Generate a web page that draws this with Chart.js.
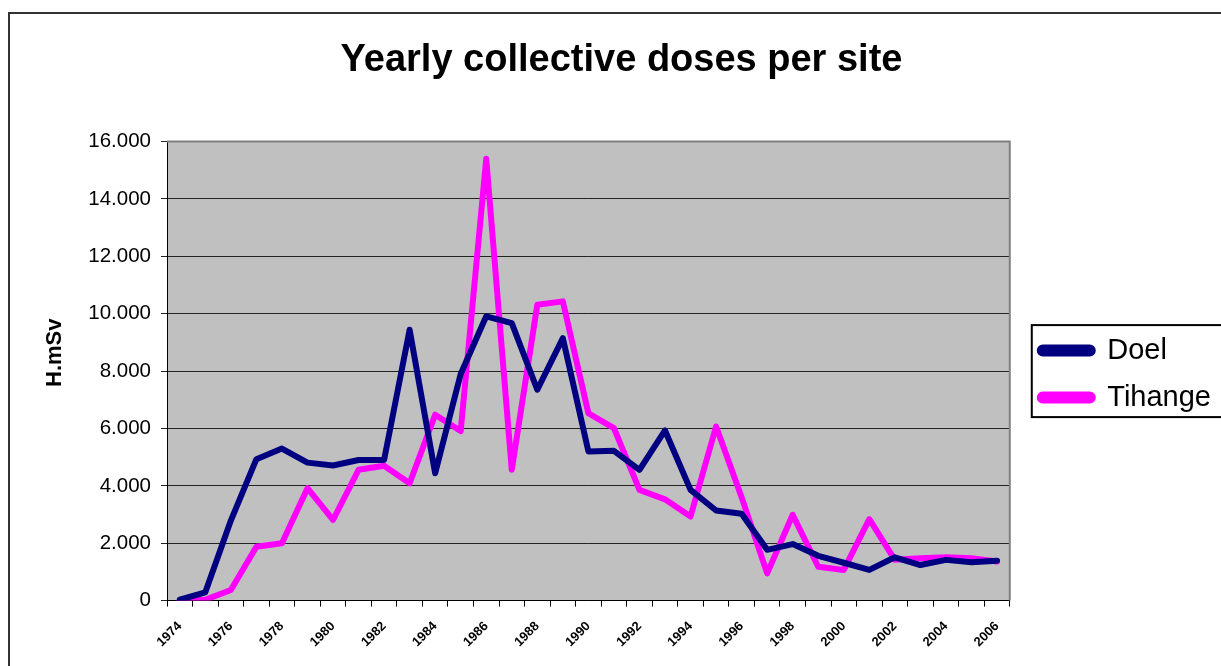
<!DOCTYPE html>
<html>
<head>
<meta charset="utf-8">
<script src="https://cdn.jsdelivr.net/npm/chart.js@4/dist/chart.umd.min.js"></script>
<style>
  html, body { margin:0; padding:0; background:#fff; overflow:hidden; }
  #wrap { position:absolute; left:8px; top:12px; width:1227px; height:654px; }
</style>
</head>
<body>
<div id="wrap"><canvas id="chart"></canvas></div>
<script>
// =========================================
// DATOS
// =========================================
const years = ['1974','1975','1976','1977','1978','1979','1980','1981','1982','1983','1984',
  '1985','1986','1987','1988','1989','1990','1991','1992','1993','1994','1995','1996',
  '1997','1998','1999','2000','2001','2002','2003','2004','2005','2006'];

const doel = [30, 290, 2790, 4930, 5300, 4810, 4710, 4900, 4900, 9440, 4440,
  7900, 9910, 9670, 7350, 9150, 5200, 5220, 4560, 5930, 3860, 3140, 3030,
  1770, 1970, 1560, 1320, 1070, 1510, 1240, 1420, 1340, 1390];

const tihange = [0, 30, 370, 1880, 2000, 3920, 2810, 4560, 4700, 4090, 6480,
  5910, 15400, 4560, 10310, 10430, 6530, 6010, 3860, 3530, 2930, 6070, 3600,
  950, 2990, 1180, 1070, 2840, 1420, 1480, 1510, 1480, 1360];

const FONT = "'Liberation Sans', Arial, sans-serif";

// =========================================
// FONDO / BORDES
// =========================================
const decor = {
  id: 'decor',
  afterLayout(chart){
    // leyenda un poco a la derecha y abajo
    const lg = chart.legend;
    lg.left += 12; lg.right += 12;
    lg.top += 3; lg.bottom += 3;
  },
  beforeDraw(chart){
    const {ctx, chartArea:a} = chart;
    ctx.save();
    ctx.fillStyle = '#C0C0C0';
    ctx.fillRect(a.left, a.top, a.right - a.left, a.bottom - a.top);
    // marco exterior (arriba + izquierda)
    ctx.strokeStyle = '#333';
    ctx.lineWidth = 2;
    ctx.beginPath();
    ctx.moveTo(1, chart.height);
    ctx.lineTo(1, 1);
    ctx.lineTo(chart.width, 1);
    ctx.stroke();
    ctx.restore();
  },
  afterDraw(chart){
    const {ctx, chartArea:a} = chart;
    ctx.save();
    ctx.strokeStyle = '#808080';
    ctx.lineWidth = 2;
    ctx.beginPath();
    ctx.moveTo(a.left, a.top);
    ctx.lineTo(a.right, a.top);
    ctx.lineTo(a.right, a.bottom);
    ctx.stroke();
    // marco de la leyenda
    const lg = chart.legend;
    const cy = (lg.top + lg.bottom) / 2;
    const l = lg.left + 10;
    const t = cy - 49;
    const b = cy + 43;
    ctx.strokeStyle = '#000';
    ctx.lineWidth = 2;
    ctx.strokeRect(l, t, chart.width + 10 - l, b - t);
    ctx.restore();
  }
};

new Chart(document.getElementById('chart'), {

  type: 'line',

  data: {
    labels: years,
    datasets: [{
      label: 'Doel',
      data: doel,
      borderColor: '#000080',
      backgroundColor: '#000080',
      borderWidth: 6,
      borderJoinStyle: 'round',
      borderCapStyle: 'round',
      pointRadius: 0,
      tension: 0
    },{
      label: 'Tihange',
      data: tihange,
      borderColor: '#FF00FF',
      backgroundColor: '#FF00FF',
      borderWidth: 6,
      borderJoinStyle: 'round',
      borderCapStyle: 'round',
      pointRadius: 0,
      tension: 0
    }]
  },

  options:{
    responsive:true,
    maintainAspectRatio:false,
    animation:false,
    layout:{ padding:{ left:26, right:26, top:0, bottom:0 } },
    plugins:{
      title:{
        display:true,
        text:'Yearly collective doses per site',
        color:'#000',
        font:{ family:FONT, size:38, weight:'bold' },
        padding:{ top:26, bottom:58 }
      },
      legend:{
        position:'right',
        align:'center',
        fullSize:false,
        labels:{
          color:'#000',
          font:{ family:FONT, size:29 },
          boxWidth:53,
          boxHeight:6,
          useBorderRadius:true,
          borderRadius:3,
          padding:18
        }
      },
      tooltip:{ enabled:false }
    },
    scales:{
      x:{
        offset:true,
        grid:{
          offset:true,
          drawOnChartArea:false,
          drawTicks:true,
          tickLength:6,
          color:'#000'
        },
        border:{ color:'#000', width:1 },
        ticks:{
          autoSkip:false,
          minRotation:45,
          maxRotation:45,
          padding:12,
          color:'#000',
          font:{ family:FONT, size:13, weight:'bold' },
          callback:(v, i) => (i % 2 === 0 ? years[i] : '')
        },
        afterFit:(s) => { s.height = 65.4; }
      },
      y:{
        min:0,
        max:16000,
        grid:{ color:'#222', lineWidth:1, tickLength:6 },
        border:{ color:'#000', width:1 },
        ticks:{
          stepSize:2000,
          padding:10,
          color:'#000',
          font:{ family:FONT, size:20.5 },
          callback:(v) => (v === 0 ? '0' : (v/1000).toFixed(3))
        },
        title:{
          display:true,
          text:'      H.mSv',
          color:'#000',
          font:{ family:FONT, size:22, weight:'bold' },
          padding:{ top:8, bottom:0 }
        },
        afterFit:(s) => { s.width = 133; }
      }
    }
  },

  plugins:[decor]

});
</script>
</body>
</html>
